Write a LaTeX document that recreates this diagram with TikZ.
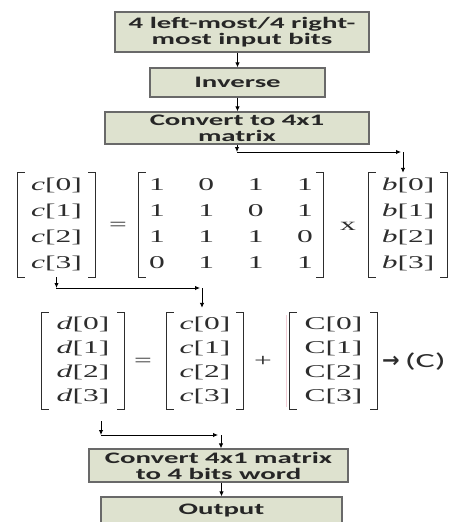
\documentclass[tikz,border=0pt]{standalone}
\usepackage{fontspec}
\usetikzlibrary{arrows.meta,matrix}

% wide bold sans for the process boxes, wide serif for the matrix entries
\newfontfamily\boxfont{Carlito}[FakeStretch=1.8]
\newfontfamily\entryfont{Liberation Serif}[FakeStretch=1.75]
\newfontfamily\arrowglyph{DejaVu Sans}

\definecolor{boxfill}{RGB}{222,226,207}
\definecolor{boxline}{RGB}{105,105,105}
\definecolor{inkgray}{RGB}{45,45,45}
\definecolor{pinkedge}{RGB}{242,205,214}

\tikzset{
  flowbox/.style={draw=boxline, line width=1.3pt, fill=boxfill, inner sep=0pt,
    align=center, text=black!85,
    font=\boxfont\bfseries\fontsize{16}{16}\selectfont},
  link/.style={-{Latex[length=5pt,width=4.5pt]}, line width=0.9pt, black},
  brk/.style={draw=inkgray, line width=1.2pt},
  vec/.style={matrix of nodes, inner sep=0pt, row sep=0pt, column sep=0pt,
    nodes={font=\entryfont\fontsize{18}{18}\selectfont, text=inkgray,
      inner sep=0pt, text height=12.5pt, text depth=4.5pt, anchor=center}},
  pitch/.style={nodes={minimum height=#1}},
  colw/.style={nodes={minimum width=#1}},
  opsym/.style={font=\entryfont\fontsize{18}{18}\selectfont, text=inkgray, inner sep=0pt},
}

% square brackets round a matrix node
\newcommand{\drawbrackets}[1]{%
  \draw[brk] ([xshift=7pt]#1.north west) -| (#1.south west) -- ++(7pt,0);
  \draw[brk] ([xshift=-7pt]#1.north east) -| (#1.south east) -- ++(-7pt,0);}

\begin{document}
\begin{tikzpicture}[x=1pt,y=-1pt]
\fill[white] (0,0) rectangle (453,522);
\useasboundingbox (0,0) rectangle (453,522);

% process boxes
\node[flowbox, minimum width=254pt, minimum height=40pt] (inbits) at (242,32)
  {4 left-most/4 right-\\most input bits};
\node[flowbox, minimum width=175pt, minimum height=29pt] (inv) at (237.5,82.5) {Inverse};
\node[flowbox, minimum width=264pt, minimum height=32pt] (conv1) at (237,128)
  {Convert to 4x1\\matrix};
\node[flowbox, minimum width=259pt, minimum height=33pt] (conv2) at (218.5,465.5)
  {Convert 4x1 matrix\\to 4 bits word};
\node[flowbox, minimum width=241pt, minimum height=28pt] (out) at (221.5,511) {Output};

% c = A x b
\matrix[vec, pitch=26pt, colw=77pt] (cup) at (56.5,225) {
  \textit{c}[0]\\ \textit{c}[1]\\ \textit{c}[2]\\ \textit{c}[3]\\};
\node[opsym] (eq1) at (118,226) {=};
\matrix[vec, pitch=26pt, colw=36pt, column sep=13.3pt] (amat) at (231,225) {
  1 & 0 & 1 & 1\\
  1 & 1 & 0 & 1\\
  1 & 1 & 1 & 0\\
  0 & 1 & 1 & 1\\};
\node[opsym] (times1) at (348,226) {x};
\matrix[vec, pitch=26pt, colw=78pt] (bcol) at (408,225) {
  \textit{b}[0]\\ \textit{b}[1]\\ \textit{b}[2]\\ \textit{b}[3]\\};

% d = c + C
\matrix[vec, pitch=24pt, colw=82pt] (dmat) at (83,361) {
  \textit{d}[0]\\ \textit{d}[1]\\ \textit{d}[2]\\ \textit{d}[3]\\};
\node[opsym] (eq2) at (143,362) {=};
\matrix[vec, pitch=24pt, colw=76pt] (clow) at (205,361) {
  \textit{c}[0]\\ \textit{c}[1]\\ \textit{c}[2]\\ \textit{c}[3]\\};
\node[opsym] (plus2) at (263,361) {+};
\draw[pinkedge, line width=1pt] (286.5,315) -- (286.5,407);
\matrix[vec, pitch=24pt, colw=87pt] (cconst) at (333.5,361) {
  C[0]\\ C[1]\\ C[2]\\ C[3]\\};
\node[inner sep=0pt, anchor=west, text=inkgray] (note) at (382,362)
  {{\arrowglyph\bfseries\fontsize{21}{21}\selectfont →}\hspace{5pt}{\boxfont\fontsize{20}{20}\selectfont (C)}};

\foreach \m in {cup,amat,bcol,dmat,clow,cconst} {\drawbrackets{\m}}

% connectors
\draw[link] (inv.north |- inbits.south) -- (inv.north);
\draw[link] (inv.south) -- (inv.south |- conv1.north);

\coordinate (k1) at (237,152);
\coordinate (k2) at (403,152);
\draw[link] (conv1.south) -- (k1);
\draw[link] (k1) -- ([xshift=-2pt]k2);
\draw[link] (k2) -- (k2 |- bcol.north);

\coordinate (k3) at (56,288);
\coordinate (k4) at (202,288);
\draw[link] (cup.south) -- (cup.south |- k3);
\draw[link] (k3) -- ([xshift=-2pt]k4);
\draw[link, shorten >=5pt] (k4) -- (k4 |- clow.north);

\coordinate (k5a) at (101,421);
\coordinate (k5) at (101,435);
\coordinate (k6) at (221,435);
\draw[link] (k5a) -- (k5);
\draw[link] (k5) -- ([xshift=-3pt]k6);
\draw[link] (k6) -- (k6 |- conv2.north);
\draw[link] (out.north |- conv2.south) -- (out.north);
\end{tikzpicture}
\end{document}
